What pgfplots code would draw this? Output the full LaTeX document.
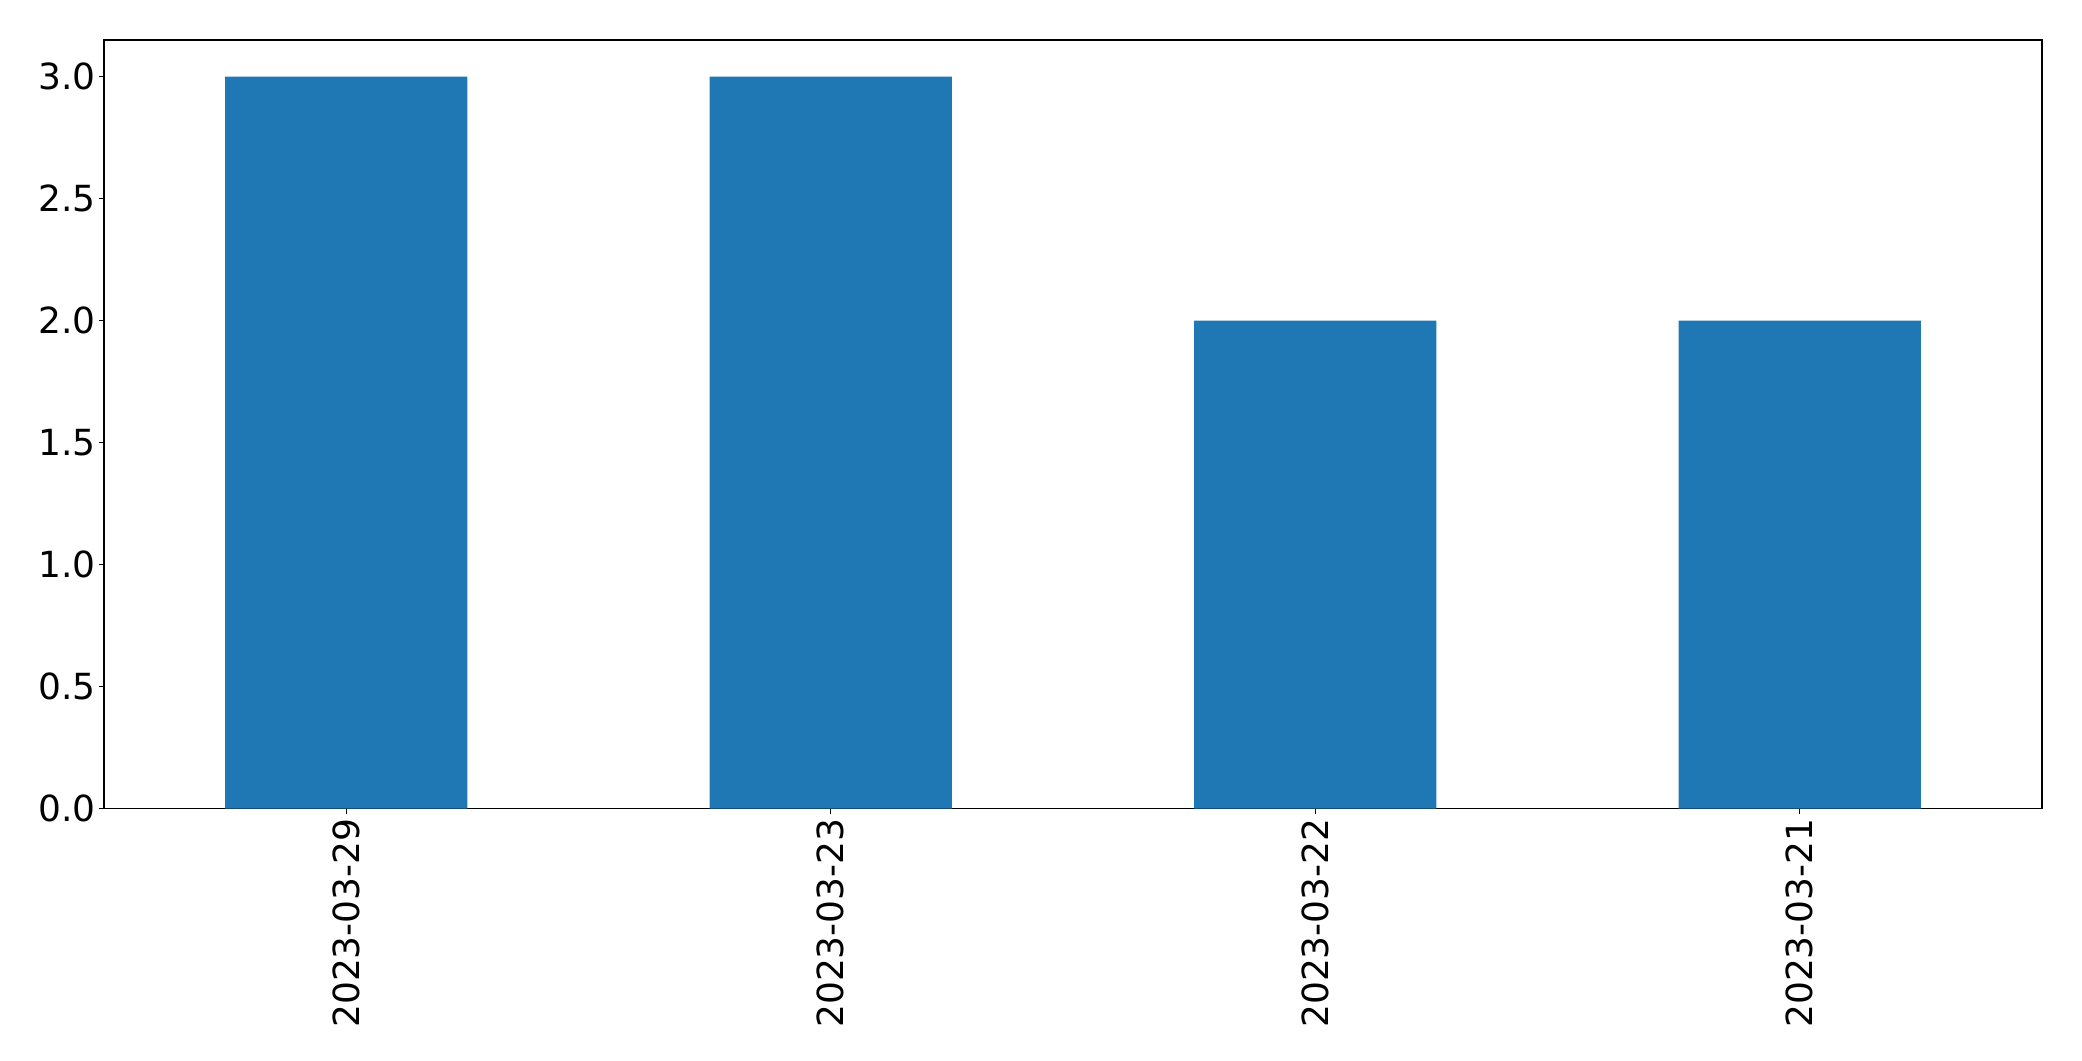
\documentclass[border=0pt]{standalone}
\usepackage{pgfplots}
\pgfplotsset{compat=1.18}
\usepackage{fontspec}
\setmainfont{DejaVu Sans}
\definecolor{tabblue}{HTML}{1F77B4}

\begin{document}
\begin{tikzpicture}
\path[use as bounding box] (-52pt,-126pt) rectangle (989.5pt,404.5pt);
\begin{axis}[
  scale only axis,
  width=969.5pt, height=384.5pt,
  xmin=-0.5, xmax=3.5,
  ymin=0, ymax=3.15,
  xtick=data,
  xticklabels={2023-03-29,2023-03-23,2023-03-22,2023-03-21},
  x tick label style={rotate=90, anchor=east, inner sep=2.3pt},
  ytick={0,0.5,...,3},
  yticklabel style={/pgf/number format/fixed, /pgf/number format/fixed zerofill, /pgf/number format/precision=1, inner sep=1.6pt},
  /pgf/number format/assume math mode=true,
  tick label style={font=\fontsize{18}{22}\selectfont},
  tick align=outside,
  xtick pos=bottom, ytick pos=left,
  major tick length=2.5pt,
  axis line style={line width=0.6pt},
  every tick/.style={black, line width=0.6pt},
]
\addplot[ybar, bar width=0.5, fill=tabblue, draw=none] coordinates
  {(0,3) (1,3) (2,2) (3,2)};
\end{axis}
\end{tikzpicture}
\end{document}
